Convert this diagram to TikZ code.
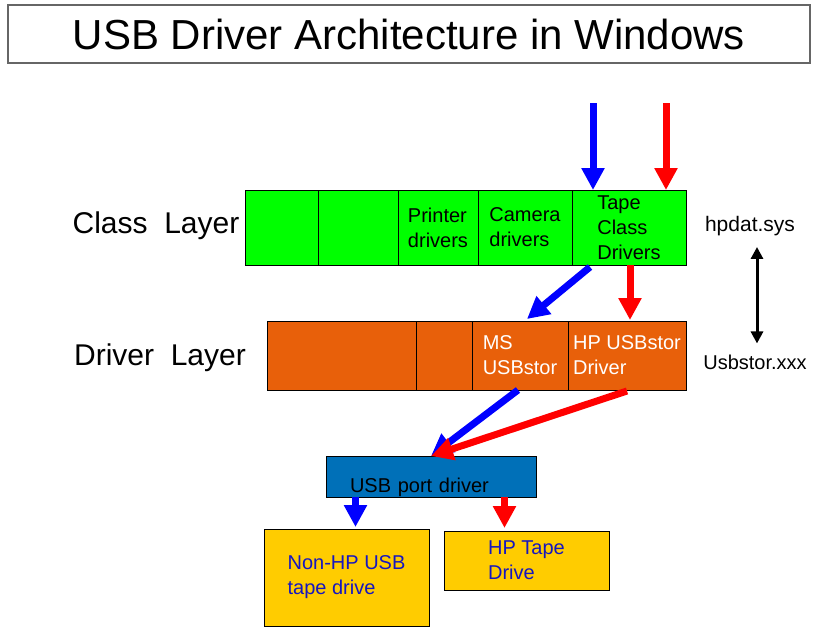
\documentclass[tikz,border=0pt]{standalone}
\usepackage{fontspec}
\setmainfont{Liberation Sans}
\usepackage{tikz}
\usetikzlibrary{positioning, arrows.meta, calc}
\usepackage{xcolor}
\definecolor{classgreen}{HTML}{00FF00}
\definecolor{driverorange}{HTML}{E8600A}
\definecolor{portblue}{HTML}{0070B8}
\definecolor{driveyellow}{HTML}{FFCC00}
\definecolor{drivetext}{HTML}{1616C0}
\definecolor{pathblue}{HTML}{0000FF}
\definecolor{pathred}{HTML}{FF0000}
\definecolor{framegray}{HTML}{666666}

\begin{document}
\begin{tikzpicture}[x=1pt, y=-1pt,
    bodyfont/.style={font=\fontsize{20}{25}\selectfont},
    cell/.style={draw=black, line width=0.8pt, inner sep=0pt, outer sep=0pt, align=left, bodyfont},
    greencell/.style={cell, fill=classgreen, minimum height=75pt},
    orangecell/.style={cell, fill=driverorange, text=white, minimum height=69pt},
    layer/.style={font=\fontsize{30}{36}\selectfont, inner sep=0pt},
    fat/.style={line width=7pt, -{Triangle[length=22pt, width=22pt]}}
]
\useasboundingbox (0,0) rectangle (815,627);

% Title frame
\node[draw=framegray, line width=1.5pt, minimum width=802pt, minimum height=58pt,
      inner sep=0pt, font=\fontsize{42}{48}\selectfont] (title) at (409,34)
      {USB Driver Architecture in Windows};

% Class layer: row of green cells
\node[layer] (classlbl) at (156,226) {Class~ Layer};
\node[greencell, minimum width=73pt, anchor=north west] (cls1) at (245,190) {};
\node[greencell, minimum width=80pt, right=0pt of cls1] (cls2) {};
\node[greencell, minimum width=80pt, right=0pt of cls2] (printer) {Printer\\drivers};
\node[greencell, minimum width=94pt, right=0pt of printer] (camera) {Camera\\drivers};
\node[greencell, minimum width=114pt, right=0pt of camera] (tape) {Tape\\Class\\Drivers};

% Driver layer: row of orange cells
\node[layer] (driverlbl) at (160,358) {Driver~ Layer};
\node[orangecell, minimum width=149pt, anchor=north west] (drv1) at (267,321) {};
\node[orangecell, minimum width=56pt, right=0pt of drv1] (drv2) {};
\node[orangecell, minimum width=96pt, right=0pt of drv2] (ms) {MS\\USBstor};
\node[orangecell, minimum width=118pt, right=0pt of ms] (hp) {HP USBstor\\Driver};

% Port driver and the two tape drives
\node[cell, fill=portblue, minimum width=210pt, minimum height=41pt, text width=162pt,
      text height=33pt, text depth=2pt, anchor=north west] (port) at (326,456) {USB port driver};
\node[cell, fill=driveyellow, text=drivetext, minimum width=165pt, minimum height=97pt,
      anchor=north west] (nonhp) at (264,529) {Non-HP USB\\tape drive};
\node[cell, fill=driveyellow, text=drivetext, minimum width=165pt, minimum height=59pt,
      anchor=north west] (hptape) at (444,531) {HP Tape\\Drive};

% File names on the right
\node[inner sep=0pt, font=\fontsize{21}{25}\selectfont] (hpdat) at (750,226) {hpdat.sys};
\node[inner sep=0pt, bodyfont] (usbstor) at (755,362) {Usbstor.xxx};
\coordinate (filetop) at ($(hpdat.south)+(7,0)$);
\draw[line width=3pt, {Triangle[length=12pt, width=12pt]}-{Triangle[length=12pt, width=12pt]},
      shorten <=11pt, shorten >=11pt]
    (filetop) -- (filetop |- usbstor.north);

% Blue path (Microsoft) and red path (HP)
\coordinate (bluein) at (593,103);
\coordinate (redin) at (666,103);
\draw[fat, pathblue] (bluein) -- (bluein |- tape.north);
\draw[fat, pathred] (redin) -- (redin |- tape.north);

\draw[fat, pathblue] ($(tape.south west)+(18,2)$) -- ($(ms.north)+(7,-2)$);
\coordinate (reddown) at ($(hp.north)+(3,-1)$);
\draw[fat, pathred] (reddown |- tape.south) -- (reddown);

\draw[fat, pathblue] ($(ms.south)+(-2,0)$) -- (port.north);
\draw[fat, pathred] ($(hp.south)+(0,1)$) -- (port.north);

\coordinate (bluedrive) at ($(nonhp.north)+(9,-2)$);
\coordinate (reddrive) at ($(hptape.north)+(-22,-3)$);
\draw[fat, pathblue] (bluedrive |- port.south) -- (bluedrive);
\draw[fat, pathred] (reddrive |- port.south) -- (reddrive);

\end{tikzpicture}
\end{document}
